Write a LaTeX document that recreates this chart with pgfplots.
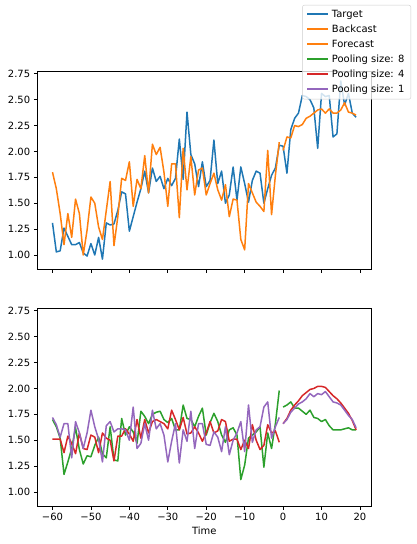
\documentclass[border=0pt]{standalone}
\usepackage{pgfplots}
\pgfplotsset{compat=1.18}
\usepackage{pgfplotstable}
\usepackage{fontspec}
\setmainfont{DejaVu Sans}
\definecolor{C0}{HTML}{1F77B4}
\definecolor{C1}{HTML}{FF7F0E}
\definecolor{C2}{HTML}{2CA02C}
\definecolor{C3}{HTML}{D62728}
\definecolor{C4}{HTML}{9467BD}

\pgfplotstableread{
t y
-60 1.31
-59 1.03
-58 1.04
-57 1.26
-56 1.18
-55 1.10
-54 1.10
-53 1.12
-52 1.02
-51 0.99
-50 1.11
-49 1.00
-48 1.17
-47 0.96
-46 1.31
-45 1.29
-44 1.30
-43 1.43
-42 1.61
-41 1.59
-40 1.23
-39 1.37
-38 1.51
-37 1.64
-36 1.81
-35 1.60
-34 1.84
-33 1.71
-32 1.76
-31 1.64
-30 1.74
-29 1.67
-28 1.74
-27 2.12
-26 1.73
-25 2.38
-24 1.97
-23 1.88
-22 1.66
-21 1.90
-20 1.66
-19 1.72
-18 2.11
-17 1.69
-16 1.81
-15 1.50
-14 1.58
-13 1.85
-12 1.53
-11 1.85
-10 1.69
-9 1.51
-8 1.72
-7 1.81
-6 1.79
-5 1.50
-4 1.64
-3 1.77
-2 1.84
-1 2.06
0 2.05
1 1.79
2 2.21
3 2.32
4 2.37
5 2.54
6 2.53
7 2.50
8 2.42
9 2.03
10 2.56
11 2.53
12 2.54
13 2.14
14 2.17
15 2.68
16 2.45
17 2.56
18 2.37
19 2.33
}\target

\pgfplotstableread{
t y
-60 1.80
-59 1.64
-58 1.40
-57 1.10
-56 1.40
-55 1.17
-54 1.54
-53 1.40
-52 1.00
-51 1.24
-50 1.56
-49 1.50
-48 1.27
-47 1.15
-46 1.43
-45 1.71
-44 1.09
-43 1.37
-42 1.74
-41 1.72
-40 1.90
-39 1.47
-38 1.73
-37 1.64
-36 1.96
-35 1.60
-34 2.07
-33 1.97
-32 2.04
-31 1.80
-30 1.47
-29 1.88
-28 1.88
-27 1.36
-26 2.03
-25 1.63
-24 1.95
-23 1.58
-22 1.82
-21 1.84
-20 1.58
-19 1.69
-18 1.79
-17 1.63
-16 1.53
-15 1.68
-14 1.37
-13 1.54
-12 1.53
-11 1.15
-10 1.05
-9 1.69
-8 1.60
-7 1.51
-6 1.47
-5 1.42
-4 2.01
-3 1.39
-2 1.77
-1 2.09
}\backcast

\pgfplotstableread{
t y
0 2.01
1 2.14
2 2.13
3 2.25
4 2.24
5 2.26
6 2.32
7 2.34
8 2.37
9 2.40
10 2.41
11 2.37
12 2.41
13 2.37
14 2.37
15 2.40
16 2.47
17 2.38
18 2.37
19 2.35
}\forecast

% backcast of the pooled models: t, pool 8, pool 4, pool 1
\pgfplotstableread{
t p8 p4 p1
-60 1.70 1.51 1.72
-59 1.63 1.51 1.65
-58 1.52 1.51 1.53
-57 1.17 1.38 1.66
-56 1.29 1.54 1.66
-55 1.42 1.47 1.33
-54 1.62 1.37 1.68
-53 1.41 1.57 1.57
-52 1.27 1.42 1.42
-51 1.35 1.41 1.57
-50 1.34 1.55 1.79
-49 1.45 1.53 1.63
-48 1.53 1.38 1.51
-47 1.37 1.57 1.29
-46 1.33 1.52 1.64
-45 1.63 1.50 1.68
-44 1.31 1.30 1.58
-43 1.30 1.54 1.61
-42 1.71 1.54 1.61
-41 1.55 1.61 1.60
-40 1.63 1.56 1.50
-39 1.58 1.49 1.82
-38 1.47 1.70 1.42
-37 1.78 1.52 1.47
-36 1.73 1.70 1.66
-35 1.66 1.57 1.50
-34 1.75 1.68 1.79
-33 1.77 1.70 1.61
-32 1.78 1.68 1.66
-31 1.70 1.66 1.55
-30 1.67 1.61 1.29
-29 1.71 1.79 1.49
-28 1.60 1.70 1.66
-27 1.60 1.60 1.28
-26 1.84 1.72 1.60
-25 1.71 1.56 1.49
-24 1.70 1.57 1.78
-23 1.63 1.63 1.42
-22 1.73 1.57 1.66
-21 1.81 1.49 1.66
-20 1.55 1.57 1.46
-19 1.67 1.68 1.45
-18 1.76 1.57 1.58
-17 1.68 1.59 1.53
-16 1.55 1.70 1.39
-15 1.48 1.68 1.63
-14 1.60 1.49 1.36
-13 1.62 1.51 1.50
-12 1.55 1.51 1.57
-11 1.12 1.41 1.68
-10 1.26 1.50 1.39
-9 1.52 1.42 1.84
-8 1.55 1.65 1.48
-7 1.58 1.50 1.60
-6 1.63 1.41 1.63
-5 1.24 1.45 1.82
-4 1.57 1.65 1.87
-3 1.42 1.57 1.52
-2 1.66 1.59 1.63
-1 1.98 1.48 1.72
}\poolback

\pgfplotstableread{
t p8 p4 p1
0 1.82 1.66 1.66
1 1.84 1.71 1.70
2 1.87 1.79 1.77
3 1.81 1.84 1.81
4 1.81 1.88 1.85
5 1.78 1.93 1.87
6 1.75 1.96 1.90
7 1.79 1.99 1.95
8 1.72 2.00 1.92
9 1.71 2.02 1.95
10 1.68 2.02 1.94
11 1.70 2.01 1.97
12 1.64 1.97 1.92
13 1.60 1.93 1.87
14 1.60 1.90 1.86
15 1.60 1.86 1.84
16 1.61 1.81 1.79
17 1.62 1.76 1.74
18 1.60 1.69 1.70
19 1.60 1.60 1.62
}\poolfore

\pgfplotsset{
  myaxis/.style={
    scale only axis,
    width=334bp, height=197.6bp,
    xmin=-63.95, xmax=22.95,
    ymin=0.862, ymax=2.77,
    axis line style={line width=0.8bp},
    tick align=outside,
    major tick length=3.5bp,
    every tick/.style={line width=0.8bp, black},
    xtick pos=bottom, ytick pos=left,
    xtick={-60,-50,-40,-30,-20,-10,0,10,20},
    ytick={1.00,1.25,1.50,1.75,2.00,2.25,2.50,2.75},
    yticklabels={1.00,1.25,1.50,1.75,2.00,2.25,2.50,2.75},
    ticklabel style={font=\fontsize{10}{12}\selectfont},
    yticklabel style={inner sep=0pt, xshift=-3.5bp},
    xticklabel style={inner sep=0pt, yshift=-3.5bp},
    /pgf/number format/assume math mode=true,
    every axis plot/.append style={line width=1.5bp, line join=round},
  }
}

\begin{document}
\begin{tikzpicture}[x=1bp,y=1bp]
\path (0,0) rectangle (416,544);
\begin{axis}[myaxis,
  at={(37.3bp,274.7bp)}, anchor=south west,
  xticklabels={},
  legend style={at={(1.119,1.3375)}, anchor=north east,
    draw=black!20, rounded corners=2bp, fill=white, fill opacity=0.8, draw opacity=1, text opacity=1,
    font=\fontsize{10}{12}\selectfont,
    nodes={text height=7.5bp, text depth=2.5bp, inner sep=2.5bp},
    inner xsep=4bp, inner ysep=2bp},
  legend cell align=left,
  legend image code/.code={\draw[#1, opacity=1, line width=2bp] (0bp,0.5bp) -- (21bp,0.5bp);},
]
\addplot[C0] table[x=t,y=y] {\target};
\addlegendentry{Target}
\addplot[C1] table[x=t,y=y] {\backcast};
\addlegendentry{Backcast}
\addplot[C1] table[x=t,y=y] {\forecast};
\addlegendentry{Forecast}
\addlegendimage{C2}
\addlegendentry{Pooling size: 8}
\addlegendimage{C3}
\addlegendentry{Pooling size: 4}
\addlegendimage{C4}
\addlegendentry{Pooling size: 1}
\end{axis}
\begin{axis}[myaxis,
  at={(37.3bp,37.7bp)}, anchor=south west,
  xticklabels={−60,−50,−40,−30,−20,−10,0,10,20},
  xlabel={Time},
  xlabel style={font=\fontsize{10}{12}\selectfont, inner sep=0pt, yshift=-6bp},
]
\addplot[C2] table[x=t,y=p8] {\poolback};
\addplot[C3] table[x=t,y=p4] {\poolback};
\addplot[C4] table[x=t,y=p1] {\poolback};
\addplot[C2] table[x=t,y=p8] {\poolfore};
\addplot[C3] table[x=t,y=p4] {\poolfore};
\addplot[C4] table[x=t,y=p1] {\poolfore};
\end{axis}
\end{tikzpicture}
\end{document}
